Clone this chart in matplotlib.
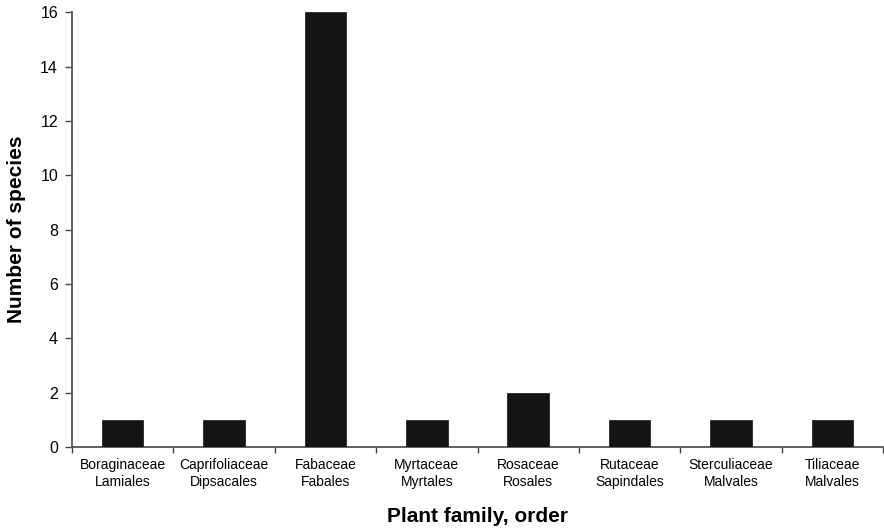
import matplotlib
matplotlib.use("Agg")
import matplotlib.pyplot as plt
import numpy as np

families = ["Boraginaceae", "Caprifoliaceae", "Fabaceae", "Myrtaceae",
            "Rosaceae", "Rutaceae", "Sterculiaceae", "Tiliaceae"]
orders = ["Lamiales", "Dipsacales", "Fabales", "Myrtales",
          "Rosales", "Sapindales", "Malvales", "Malvales"]
species_counts = [1, 1, 16, 1, 2, 1, 1, 1]
y_ticks = [0, 2, 4, 6, 8, 10, 12, 14, 16]

plt.rcParams["font.family"] = ["Liberation Sans", "DejaVu Sans"]

fig = plt.figure(figsize=(8.84, 5.28), dpi=100)
ax = fig.add_axes([0.0814, 0.1534, 0.9176, 0.8236])

x = np.arange(len(families))
ax.bar(x, species_counts, width=0.41, color="#141414", edgecolor="#141414",
       linewidth=0.5, zorder=3)

ax.set_xlim(-0.5, len(families) - 0.5)
ax.set_ylim(0, 16)
ax.set_yticks(y_ticks)
ax.set_yticklabels([str(v) for v in y_ticks], fontsize=11.5)

labels = [f"{f}\n{o}" for f, o in zip(families, orders)]
ax.set_xticks(x)
ax.set_xticklabels(labels, fontsize=10, linespacing=1.3)
ax.tick_params(axis="x", which="major", length=0, pad=8)
ax.set_xticks(np.arange(len(families) + 1) - 0.5, minor=True)
ax.tick_params(axis="x", which="minor", length=4, width=1, color="#444444",
               direction="out")
ax.tick_params(axis="y", length=5, width=1, color="#444444", pad=5)

for side in ("top", "right"):
    ax.spines[side].set_visible(False)
for side in ("left", "bottom"):
    ax.spines[side].set_color("#555555")
    ax.spines[side].set_linewidth(1.3)

ax.set_ylabel("Number of species", fontsize=15, fontweight="bold", labelpad=10)
ax.set_xlabel("Plant family, order", fontsize=15, fontweight="bold", labelpad=13)

fig.savefig("out.png", dpi=100)
